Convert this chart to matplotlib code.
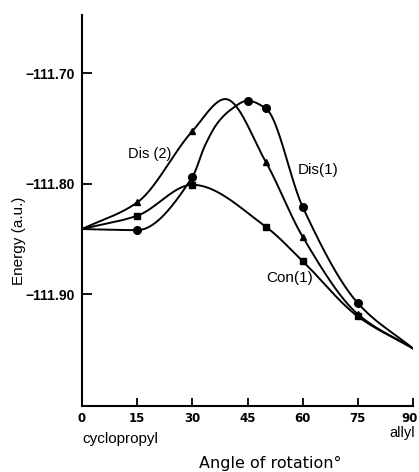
import numpy as np
import matplotlib
matplotlib.use("Agg")
import matplotlib.pyplot as plt
from matplotlib.ticker import FuncFormatter
from matplotlib.transforms import ScaledTranslation

plt.rcParams["font.family"] = ["Liberation Sans", "DejaVu Sans"]

# computed points (marked)
angle_dis2 = [0, 15, 30, 50, 60, 75, 90]
energy_dis2 = [-111.841, -111.817, -111.7525, -111.7805, -111.848, -111.918, -111.949]

angle_dis1 = [0, 15, 30, 45, 50, 60, 75, 90]
energy_dis1 = [-111.841, -111.842, -111.794, -111.725, -111.732, -111.821, -111.908, -111.949]

angle_con1 = [0, 15, 30, 50, 60, 75, 90]
energy_con1 = [-111.841, -111.829, -111.801, -111.839, -111.870, -111.920, -111.949]

# extra points (no marker in the figure)
trace_dis2_angle = [39]
trace_dis2_energy = [-111.7235]
trace_dis1_angle = [33.5, 37, 40.5]
trace_dis1_energy = [-111.765, -111.7445, -111.733]

x_ticks = [0, 15, 30, 45, 60, 75, 90]
y_ticks = [-111.70, -111.80, -111.90]


def smooth(x, y, num=400):
    # monotone cubic (pchip) through the points, for the hand-drawn curve
    order = np.argsort(x)
    x = np.asarray(x, float)[order]
    y = np.asarray(y, float)[order]
    n = len(x)
    h = np.diff(x)
    delta = np.diff(y) / h
    m = np.zeros(n)
    for k in range(1, n - 1):
        if delta[k - 1] * delta[k] > 0:
            w1 = 2 * h[k] + h[k - 1]
            w2 = h[k] + 2 * h[k - 1]
            m[k] = (w1 + w2) / (w1 / delta[k - 1] + w2 / delta[k])
    m[0] = delta[0]
    m[-1] = delta[-1]
    xs = np.linspace(x[0], x[-1], num)
    idx = np.clip(np.searchsorted(x, xs) - 1, 0, n - 2)
    t = (xs - x[idx]) / h[idx]
    h00 = 2 * t ** 3 - 3 * t ** 2 + 1
    h10 = t ** 3 - 2 * t ** 2 + t
    h01 = -2 * t ** 3 + 3 * t ** 2
    h11 = t ** 3 - t ** 2
    ys = h00 * y[idx] + h10 * h[idx] * m[idx] + h01 * y[idx + 1] + h11 * h[idx] * m[idx + 1]
    return xs, ys


fig = plt.figure(figsize=(4.19, 4.72), dpi=100)
ax = fig.add_axes([82 / 419, 1 - 406 / 472, 331 / 419, 391 / 472])

series = [
    (angle_dis2, energy_dis2, trace_dis2_angle, trace_dis2_energy, "^", 5),
    (angle_dis1, energy_dis1, trace_dis1_angle, trace_dis1_energy, "o", 5.5),
    (angle_con1, energy_con1, [], [], "s", 4.5),
]
for xs_, ys_, tx, ty, marker, ms in series:
    cx, cy = smooth(list(xs_) + tx, list(ys_) + ty)
    ax.plot(cx, cy, color="black", lw=1.4)
    ax.plot(xs_[1:-1], ys_[1:-1], linestyle="none", marker=marker,
            markersize=ms, color="black")

ax.text(18.5, -111.773, "Dis (2)", fontsize=10.5, ha="center", va="center")
ax.text(58.6, -111.788, "Dis(1)", fontsize=11, ha="left", va="center")
ax.text(50.2, -111.8855, "Con(1)", fontsize=11, ha="left", va="center")

ax.set_xlim(0, 90)
ax.set_ylim(-112.001, -111.6475)
ax.set_xticks(x_ticks)
ax.set_yticks(y_ticks)
ax.yaxis.set_major_formatter(FuncFormatter(lambda v, p: f"\u2212{abs(v):.2f}"))
ax.tick_params(axis="x", direction="in", length=6, width=1.3, pad=4,
               labelsize=8.5, labelfontfamily="DejaVu Sans")
ax.tick_params(axis="y", direction="in", length=7, width=1.3, pad=5, labelsize=10)
for lab in ax.get_xticklabels():
    lab.set_fontweight("bold")
for lab in ax.get_yticklabels():
    lab.set_fontweight("bold")
last = ax.get_xticklabels()[-1]
last.set_transform(last.get_transform() + ScaledTranslation(-0.03, 0, fig.dpi_scale_trans))

for side in ["top", "right"]:
    ax.spines[side].set_visible(False)
for side in ["left", "bottom"]:
    ax.spines[side].set_linewidth(1.5)

fig.text(82 / 419, 1 - 439 / 472, "cyclopropyl", fontsize=11, ha="left", va="center")
fig.text(415 / 419, 1 - 433 / 472, "allyl", fontsize=10.5, ha="right", va="center")
fig.text(270 / 419, 1 - 463 / 472, "Angle of rotation\u00b0", fontsize=11.5,
         family="DejaVu Sans", ha="center", va="center")
fig.text(19 / 419, 1 - 241 / 472, "Energy (a.u.)", fontsize=11, rotation=90,
         ha="center", va="center")

fig.savefig("out.png", dpi=100)
